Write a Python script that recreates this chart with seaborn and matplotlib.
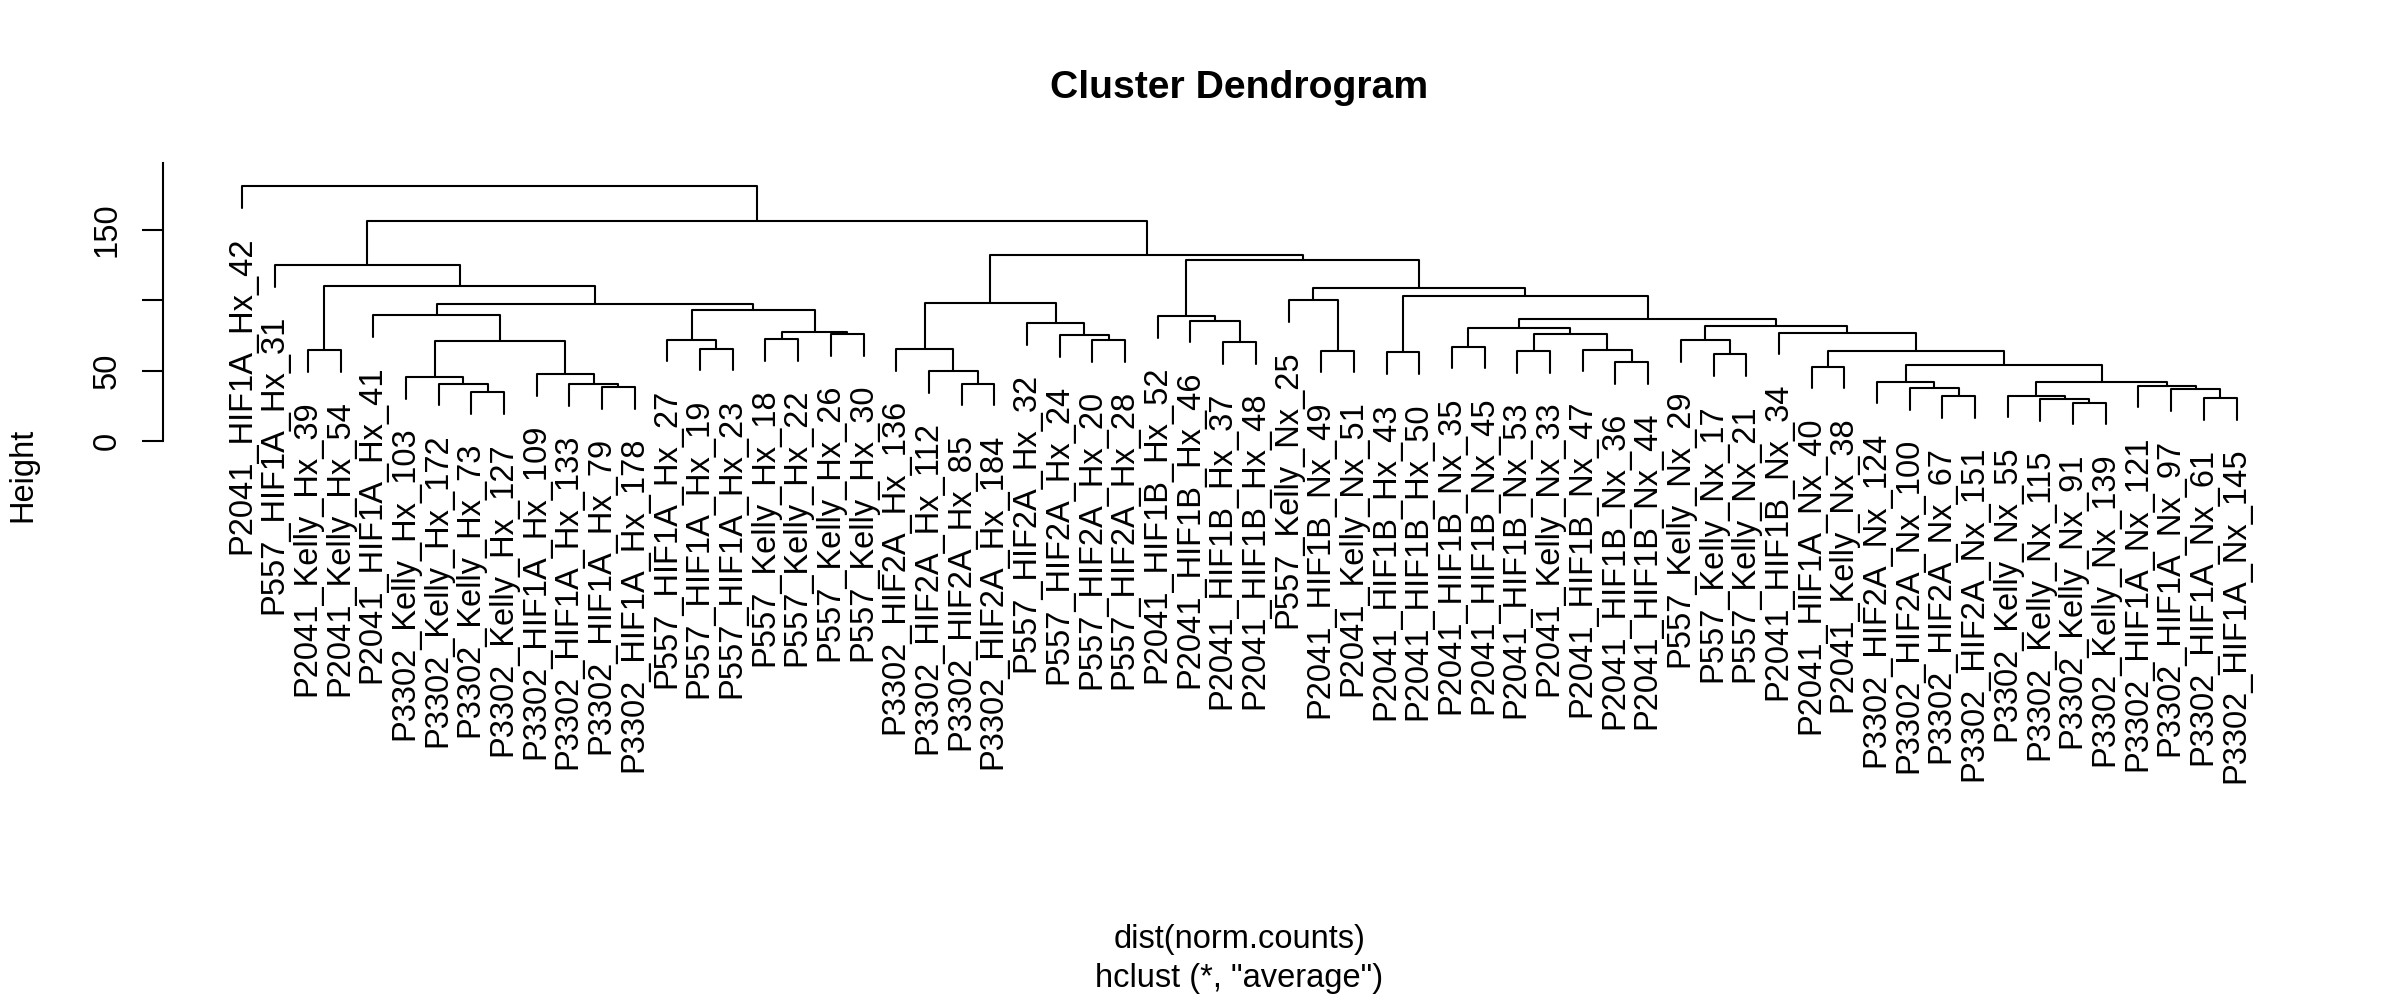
import pandas as pd
import matplotlib
matplotlib.use("Agg")
import matplotlib.pyplot as plt
import seaborn as sns

# R-like plain look
sns.set_theme(style="white")
plt.rcParams['font.family'] = ['Liberation Sans', 'DejaVu Sans']
plt.rcParams.update({
    'text.color': 'black',
    'axes.labelcolor': 'black',
    'xtick.color': 'black',
    'ytick.color': 'black',
})

# leaves in plotting order (left to right)
leaf_labels = [
    "P2041_HIF1A_Hx_42", "P557_HIF1A_Hx_31", "P2041_Kelly_Hx_39", "P2041_Kelly_Hx_54",
    "P2041_HIF1A_Hx_41", "P3302_Kelly_Hx_103", "P3302_Kelly_Hx_172", "P3302_Kelly_Hx_73",
    "P3302_Kelly_Hx_127", "P3302_HIF1A_Hx_109", "P3302_HIF1A_Hx_133", "P3302_HIF1A_Hx_79",
    "P3302_HIF1A_Hx_178", "P557_HIF1A_Hx_27", "P557_HIF1A_Hx_19", "P557_HIF1A_Hx_23",
    "P557_Kelly_Hx_18", "P557_Kelly_Hx_22", "P557_Kelly_Hx_26", "P557_Kelly_Hx_30",
    "P3302_HIF2A_Hx_136", "P3302_HIF2A_Hx_112", "P3302_HIF2A_Hx_85", "P3302_HIF2A_Hx_184",
    "P557_HIF2A_Hx_32", "P557_HIF2A_Hx_24", "P557_HIF2A_Hx_20", "P557_HIF2A_Hx_28",
    "P2041_HIF1B_Hx_52", "P2041_HIF1B_Hx_46", "P2041_HIF1B_Hx_37", "P2041_HIF1B_Hx_48",
    "P557_Kelly_Nx_25", "P2041_HIF1B_Nx_49", "P2041_Kelly_Nx_51", "P2041_HIF1B_Hx_43",
    "P2041_HIF1B_Hx_50", "P2041_HIF1B_Nx_35", "P2041_HIF1B_Nx_45", "P2041_HIF1B_Nx_53",
    "P2041_Kelly_Nx_33", "P2041_HIF1B_Nx_47", "P2041_HIF1B_Nx_36", "P2041_HIF1B_Nx_44",
    "P557_Kelly_Nx_29", "P557_Kelly_Nx_17", "P557_Kelly_Nx_21", "P2041_HIF1B_Nx_34",
    "P2041_HIF1A_Nx_40", "P2041_Kelly_Nx_38", "P3302_HIF2A_Nx_124", "P3302_HIF2A_Nx_100",
    "P3302_HIF2A_Nx_67", "P3302_HIF2A_Nx_151", "P3302_Kelly_Nx_55", "P3302_Kelly_Nx_115",
    "P3302_Kelly_Nx_91", "P3302_Kelly_Nx_139", "P3302_HIF1A_Nx_121", "P3302_HIF1A_Nx_97",
    "P3302_HIF1A_Nx_61", "P3302_HIF1A_Nx_145",
]

# hclust-style merge table: negative = leaf position, positive = earlier merge row
merge_left = [
    -57, -56, -61, -53, -55, -8, -60, -52, -12, -59,
    -11, -23, -7, -51, 5, -6, -10, -22, -49, 14,
    -43, -46, -36, -40, 19, -34, -3, -42, -21, -15,
    -38, -31, 16, -27, -45, -14, -17, -26, -19, 24,
    -48, 37, 31, 35, -25, -30, 43, -29, -5, 36,
    49, 29, -33, 23, 53, 27, -2, 48, 52, 57,
    -1,
]
merge_right = [
    -58, 1, -62, -54, 2, -9, 3, 4, -13, 7,
    9, -24, 6, 8, 10, 13, 11, 12, -50, 15,
    -44, -47, -37, -41, 20, -35, -4, 21, 18, -16,
    -39, -32, 17, -28, 22, 30, -18, 34, -20, 28,
    25, 39, 40, 41, 38, 32, 44, 46, 33, 42,
    50, 45, 26, 47, 54, 51, 56, 55, 58, 59,
    60,
]
merge_height = [
    27.2, 29.8, 30.6, 31.8, 32.2, 34.6, 36.9, 37.5, 38.3, 39.4,
    40.5, 40.8, 40.9, 42.1, 42.1, 45.4, 47.5, 49.6, 52.8, 54.0,
    56.2, 61.6, 62.9, 63.8, 64.2, 64.3, 64.5, 65.0, 65.1, 65.5,
    67.1, 70.3, 71.0, 71.7, 71.8, 72.1, 72.4, 75.3, 75.9, 76.2,
    76.9, 77.5, 80.0, 81.8, 83.5, 85.4, 86.6, 88.6, 89.3, 92.8,
    97.6, 98.1, 99.9, 103.3, 108.4, 109.8, 124.7, 128.5, 132.3, 155.9,
    180.7,
]
y_ticks = [0, 50, 100, 150]
# R drops the "100" label because it would overlap its neighbours
y_tick_labels = ["0", "50", "", "150"]

hang = 0.1 * (max(merge_height) - min(merge_height))

# build the U-shaped segments of every merge
node_x = {}
leaf_bottom = {}
rows = []
for i, (a, b, h) in enumerate(zip(merge_left, merge_right, merge_height), start=1):
    pts = []
    for c in (a, b):
        if c < 0:
            cx, cy = -c, h - hang
            leaf_bottom[-c] = cy
        else:
            cx, cy = node_x[c], merge_height[c - 1]
        pts.append((cx, cy))
    node_x[i] = (pts[0][0] + pts[1][0]) / 2
    xs = [pts[0][0], pts[0][0], pts[1][0], pts[1][0]]
    ys = [pts[0][1], h, h, pts[1][1]]
    for k in range(4):
        rows.append({"node": i, "step": k, "x": xs[k], "y": ys[k]})
seg_df = pd.DataFrame(rows)

n = len(leaf_labels)
fig = plt.figure(figsize=(24, 10), dpi=100)
ax = fig.add_axes([162.7 / 2400, 202.5 / 1000, 2153.6 / 2400, 634.8 / 1000])

sns.lineplot(data=seg_df, x="x", y="y", units="node", estimator=None, sort=False,
             color="black", linewidth=1.5, ax=ax)

ax.set_xlim(1 - 0.04 * (n - 1), n + 0.04 * (n - 1))
ax.set_ylim(-252.7, 197.5)

# leaf labels hanging below each leaf
for pos, lab in enumerate(leaf_labels, start=1):
    ax.annotate(lab, xy=(pos, leaf_bottom[pos]), xytext=(7.5 * 0.72, -28 * 0.72),
                textcoords="offset points", rotation=90, rotation_mode="anchor",
                ha="right", va="baseline", fontsize=23.5, annotation_clip=False)

for side in ["top", "right", "bottom"]:
    ax.spines[side].set_visible(False)
ax.spines["left"].set_bounds(0, ax.get_ylim()[1])
ax.spines["left"].set_color("black")
ax.spines["left"].set_linewidth(1.5)
ax.set_xticks([])
ax.set_yticks(y_ticks)
ax.set_yticklabels(y_tick_labels)
ax.tick_params(axis="y", left=True, length=15.1, width=1.5, pad=13.7,
               labelsize=23.5, direction="out", color="black")
for t in ax.get_yticklabels():
    t.set_rotation(90)
    t.set_va("center")
ax.set_xlabel("")
ax.set_ylabel("")
ax.grid(False)

cx = (162.7 + 2316.3) / 2 / 2400
fig.text(cx, 1 - 98 / 1000, "Cluster Dendrogram", ha="center", va="baseline",
         fontsize=28.2, fontweight="bold")
fig.text(cx, 1 - 948 / 1000, "dist(norm.counts)", ha="center", va="baseline", fontsize=23.5)
fig.text(cx, 1 - 987 / 1000, 'hclust (*, "average")', ha="center", va="baseline", fontsize=23.5)
fig.text(23 / 2400, 1 - 475 / 1000, "Height", rotation=90, ha="center", va="center",
         fontsize=23.5)

fig.savefig("out.png", dpi=100, facecolor="white")
